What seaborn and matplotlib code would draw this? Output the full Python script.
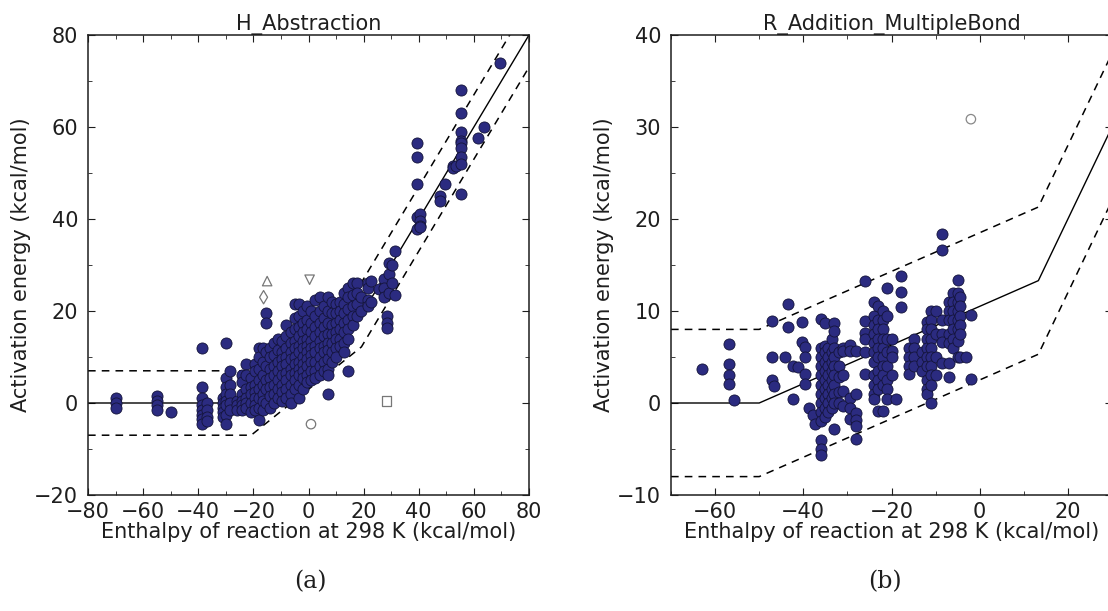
import numpy as np
import pandas as pd
import matplotlib
matplotlib.use("Agg")
import matplotlib.pyplot as plt
import seaborn as sns
from matplotlib.ticker import MultipleLocator

# ---------------- Panel (a): H_Abstraction ----------------
h_cols = [
    (-70, [1, 0, -1]),
    (-55, [1.5, 0.5, -0.5, -1.5]),
    (-50, [-1.9]),
    (-38.5, [12, 3.5, 1, -0.5, -1.5, -2.5, -3.5, -4.5]),
    (-37, [0, -1.5, -3, -4]),
    (-31, [1, 0, -1, -2, -3]),
    (-30, [13, 5.5, 3.5, 2, 0.5, -0.5, -2.5, -4.5]),
    (-28.5, [7, 4, 2, 0, -1.5]),
    (-26, [0.5, -0.5, -1.5]),
    (-24, [6, 4.5, 2, 0.5, -0.5, -1.5]),
    (-22.5, [8.5, 6, 3, 1, 0, -1]),
    (-21, [5.5, 3.5, 2, 0, -2]),
    (-19.5, [8.5, 7, 4, 2.5, 1, -0.5, -1.5]),
    (-18, [12, 10, 7.5, 5, 3, 1, -1, -3.7]),
    (-16.5, [12, 9, 6, 4, 2, 0.5, -1.5]),
    (-15.5, [19.5, 17.5, 11, 8, 5, 3, 0]),
    (-14, [12, 10, 7.5, 5.5, 3.5, 1.5, -1]),
    (-12.5, [13, 10.5, 8, 6, 4, 2, 0]),
    (-11, [14, 11.5, 9, 7, 5, 3, 1]),
    (-9.5, [13.5, 11, 9.5, 8, 6, 4, 2.5, 0.5]),
    (-8, [17, 14.5, 12, 10, 8.5, 6.5, 5, 3, 1]),
    (-6.5, [15.5, 13, 11, 9.5, 7.5, 6, 4, 2, 0]),
    (-5, [21.5, 18.5, 16, 13.5, 12, 10, 8.5, 6.5, 5, 3]),
    (-3.5, [21.5, 19, 16.5, 14.5, 12.5, 11, 9, 7.5, 6, 4, 1]),
    (-2, [20, 17.5, 15.5, 13.5, 12, 10, 8.5, 7, 5.5, 3]),
    (-0.5, [21, 18, 16, 14, 12.5, 11, 9.5, 8, 6, 4.5]),
    (1, [20, 17.5, 15.5, 13.5, 12, 10.5, 9, 7, 5]),
    (2.5, [22.5, 19, 16.5, 14.5, 12.5, 11, 9, 7, 5.5]),
    (4, [23, 20, 17.5, 15.5, 13.5, 12, 10, 8, 6]),
    (5.5, [21, 18.5, 16.5, 14.5, 12.5, 11, 9, 7]),
    (7, [23, 20, 17.5, 15, 13, 11.5, 9.5, 7.5, 6, 2]),
    (8.5, [22, 19.5, 17, 15, 13, 11, 9]),
    (10, [21.5, 19.5, 17.5, 15.5, 14, 12, 10]),
    (11.5, [22, 20, 18, 16, 14, 12.5]),
    (13, [24, 21.5, 19.5, 17.5, 15.5, 13, 11]),
    (14.5, [25, 23, 20.5, 18, 16, 14, 7]),
    (16, [26, 23.5, 21, 19, 17]),
    (17.5, [26, 24, 21.5, 19]),
    (19, [23, 20]),
    (21.5, [26, 25, 22.5, 21]),
    (22.5, [26.5, 22]),
    (25.5, [24.8]),
    (27.3, [27, 25, 23]),
    (28.3, [19, 17.5, 16.4]),
    (29.3, [30.5, 28, 24]),
    (30.3, [26, 30]),
    (31.5, [33, 23.5]),
    (39.5, [56.5, 53.5, 47.5, 40.5, 37.8]),
    (40.3, [41, 39.5, 38.5, 38.3]),
    (47.8, [45, 44]),
    (49.5, [47.5]),
    (52.5, [51.5, 51]),
    (53.5, [51.5]),
    (55.2, [68, 63, 59, 57, 56.5, 55.5, 53.5, 52, 45.5]),
    (61.5, [57.5]),
    (63.5, [60]),
    (69.5, [74]),
]
h_dH = [x for x, ys in h_cols for _ in ys]
h_Ea = [y for _, ys in h_cols for y in ys]

# piecewise fit line and its +/- band
h_fit_x = [-80, -20.8, 19.2, 80]
h_fit_y = [0, 0, 19.2, 80]
h_band = 7

# hollow outlier markers
h_out_x = [-15, -16.3, 0.4, 0.9, 28.2]
h_out_y = [26.5, 23, 26.8, -4.6, 0.4]
h_out_m = ["^", "d", "v", "o", "s"]

# ---------------- Panel (b): R_Addition_MultipleBond ----------------
r_cols = [
    (-63, [3.7]),
    (-56.8, [6.4, 4.2, 3.0, 2.1]),
    (-55.8, [0.3]),
    (-47.1, [8.9, 5.0, 2.5]),
    (-46.6, [1.9]),
    (-43.4, [10.8, 8.3]),
    (-44.1, [5.0]),
    (-42.4, [4.0, 0.4]),
    (-41.2, [3.9]),
    (-40.3, [8.8, 6.6]),
    (-39.7, [6.1, 5.0, 3.2, 2.1]),
    (-38.7, [-0.5]),
    (-37.8, [-1.3]),
    (-37.3, [-2.3]),
    (-36, [9.1, 6, 5, 4, 3, 2, 1, 0, -1, -2, -4, -5, -5.7]),
    (-35, [8.7, 6.2, 5.5, 4.5, 3.5, 2.5, 1.5, 0.5, -0.5, -1.5]),
    (-34.5, [6, 5, 4, 3, 2, 1, 0, -1]),
    (-33.5, [7, 5.5, 4.5, 3.5, 2.5, 1.5, 0.5, -0.5]),
    (-33, [8.7, 7.8, 6, 5, 4, 3, 2, 1, 0, -2.8]),
    (-32, [5.5, 4, 2.8, 1.2, 0]),
    (-31, [6, 5.7, 3, 1.3, -0.3]),
    (-29.5, [6.3, 5.7, 0.5, -0.5, -1.7]),
    (-28, [5.7, 1, -1.1, -1.9, -2.5, -3.9]),
    (-26, [13.3, 8.9, 7.6, 7, 5.5, 3.2]),
    (-24, [11, 9.5, 8.5, 7.5, 6.5, 5.5, 4.5, 3, 2, 1, 0.4]),
    (-23, [10.5, 9, 8, 7, 6, 5, 3.5, 2.5, 1.5, -0.9]),
    (-22, [10, 9, 8, 7, 6, 5, 4, 3, 2, -0.9]),
    (-21, [12.5, 9.5, 7, 5.5, 4, 2.5, 1.5, 0.4]),
    (-20, [7, 5.7, 5, 3]),
    (-19, [0.4]),
    (-17.8, [13.8, 12.1, 10.4]),
    (-16, [6, 5, 4, 3.2]),
    (-15, [7, 6, 5, 4]),
    (-13, [5.5, 4.5, 3.5]),
    (-12, [8.8, 8, 7, 6, 5, 4, 2.5, 1.5, 1]),
    (-11, [10, 9, 8, 7, 6, 5, 4, 3, 2, 0]),
    (-10, [10, 7.5, 5, 3]),
    (-8.5, [18.4, 16.6, 9, 7.5, 6.6, 4.4]),
    (-7, [11, 10, 9, 7.5, 6.5, 4.4, 2.8]),
    (-6, [12, 11, 10, 9, 8, 7, 6]),
    (-5, [13.4, 12, 11, 10, 9, 8, 6.7, 5]),
    (-4.5, [11.5, 10.5, 9.5, 8.5, 7.5, 5]),
    (-3, [5]),
    (-2, [9.6, 2.6]),
]
r_dH = [x for x, ys in r_cols for _ in ys]
r_Ea = [y for _, ys in r_cols for y in ys]

r_fit_x = [-70, -50, 13.3, 30]
r_fit_y = [0, 0, 13.3, 30]
r_band = 8

r_out_x = [-2.0]
r_out_y = [30.85]

# ---------------- Figure ----------------
sns.set_style("ticks")
plt.rcParams["font.family"] = ["DejaVu Sans"]

W, H = 1108, 611
fig = plt.figure(figsize=(W / 100, H / 100), dpi=100)
axA = fig.add_axes([88 / W, 1 - 495 / H, 441 / W, 460 / H])
axB = fig.add_axes([671 / W, 1 - 495 / H, 441 / W, 460 / H])

pt_color = "#2b2b80"
edge_color = "#14143a"
txt = "#1e1e1e"


def style_axes(ax, xlim, ylim, xmaj, ymaj, xmin, ymin):
    ax.set_xlim(*xlim)
    ax.set_ylim(*ylim)
    ax.xaxis.set_major_locator(MultipleLocator(xmaj))
    ax.yaxis.set_major_locator(MultipleLocator(ymaj))
    ax.xaxis.set_minor_locator(MultipleLocator(xmin))
    ax.yaxis.set_minor_locator(MultipleLocator(ymin))
    ax.tick_params(which="both", direction="in", top=True, right=True,
                   labelsize=15, colors=txt)
    ax.tick_params(axis="x", which="major", pad=5)
    ax.tick_params(axis="y", which="major", pad=7)
    ax.tick_params(which="major", length=5, width=0.8)
    ax.tick_params(which="minor", length=3, width=0.6)
    for s in ax.spines.values():
        s.set_visible(True)
        s.set_linewidth(1.1)
        s.set_color(txt)
    ax.set_xlabel("Enthalpy of reaction at 298 K (kcal/mol)", fontsize=15,
                  color=txt, labelpad=0)
    ax.set_ylabel("Activation energy (kcal/mol)", fontsize=15,
                  color=txt, labelpad=2)


def draw_fit(ax, fx, fy, band):
    fx = np.array(fx, dtype=float)
    fy = np.array(fy, dtype=float)
    sns.lineplot(x=fx, y=fy, ax=ax, color="black", lw=1.0, sort=False,
                 estimator=None)
    sns.lineplot(x=fx, y=fy + band, ax=ax, color="black", lw=1.1,
                 sort=False, estimator=None, linestyle=(0, (5, 4)))
    sns.lineplot(x=fx, y=fy - band, ax=ax, color="black", lw=1.1,
                 sort=False, estimator=None, linestyle=(0, (5, 4)))


# Panel (a)
draw_fit(axA, h_fit_x, h_fit_y, h_band)
sns.scatterplot(x=h_dH, y=h_Ea, ax=axA, color=pt_color, edgecolor=edge_color,
                linewidth=0.6, s=64, zorder=3)
for x, y, m in zip(h_out_x, h_out_y, h_out_m):
    axA.scatter([x], [y], marker=m, s=46, facecolors="none",
                edgecolors="#777777", linewidths=0.9, zorder=4)
style_axes(axA, (-80, 80), (-20, 80), 20, 20, 10, 10)
axA.set_title("H_Abstraction", fontsize=15, color=txt, pad=2)

# Panel (b)
draw_fit(axB, r_fit_x, r_fit_y, r_band)
sns.scatterplot(x=r_dH, y=r_Ea, ax=axB, color=pt_color, edgecolor=edge_color,
                linewidth=0.6, s=64, zorder=3)
axB.scatter(r_out_x, r_out_y, marker="o", s=46, facecolors="none",
            edgecolors="#888888", linewidths=0.9, zorder=4)
style_axes(axB, (-70, 30), (-10, 40), 20, 10, 10, 5)
axB.set_title("R_Addition_MultipleBond", fontsize=15, color=txt, pad=2)

fig.text(310 / W, 1 - 582 / H, "(a)", ha="center", va="center",
         fontsize=17, family="DejaVu Serif", color=txt)
fig.text(885 / W, 1 - 582 / H, "(b)", ha="center", va="center",
         fontsize=17, family="DejaVu Serif", color=txt)

fig.savefig("out.png", dpi=100)
